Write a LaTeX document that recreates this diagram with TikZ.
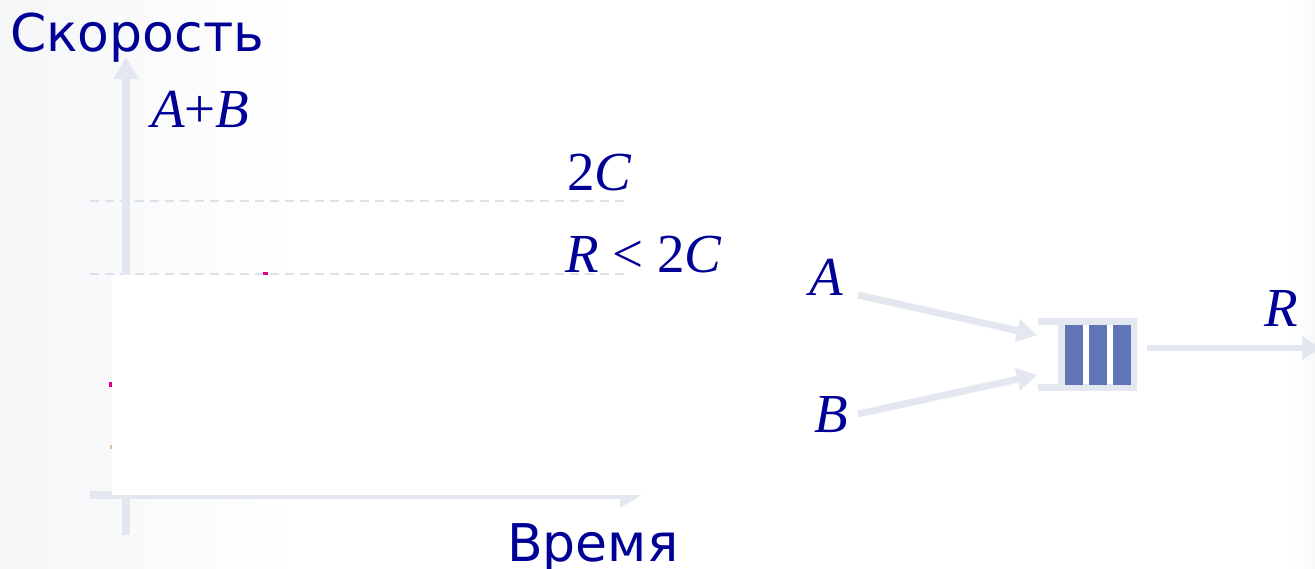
\documentclass[tikz,border=0pt]{standalone}
\usepackage{fontspec}
\setmainfont{Liberation Serif}
\newfontfamily\ruf{DejaVu Sans}
\usetikzlibrary{arrows.meta}
\definecolor{txt}{RGB}{0,0,150}
\definecolor{axisc}{RGB}{227,232,240}
\definecolor{dashc}{RGB}{220,226,236}
\definecolor{barc}{RGB}{96,117,181}
\definecolor{bgl}{RGB}{245,246,248}
\definecolor{speck}{RGB}{220,0,140}
\begin{document}
\begin{tikzpicture}[x=1pt,y=-1pt,
 lab/.style={inner sep=0, anchor=base west, text=txt, font=\fontsize{55}{55}\selectfont},
 rus/.style={inner sep=0, anchor=base west, text=txt, text depth=0pt, font=\ruf\fontsize{52}{52}\selectfont},
 ax/.style={draw=axisc, line width=8pt, -{Triangle[length=22pt,width=24pt]}},
 flow/.style={draw=axisc, line width=7pt, -{Triangle[length=20pt,width=22pt]}},
 guide/.style={draw=dashc, line width=1.5pt, dash pattern=on 9pt off 6pt},
 frame/.style={draw=axisc, line width=7pt},
 bar/.style={fill=barc}]
\useasboundingbox (0,0) rectangle (1315,568);
\fill[white] (0,0) rectangle (1315,568);
\shade[left color=bgl,right color=white] (0,0) rectangle (300,568);
\shade[left color=white,right color=bgl!70] (1290,0) rectangle (1315,568);
% guides
\coordinate (g1a) at (90,201); \coordinate (g1b) at (630,201);
\coordinate (g2a) at (90,274); \coordinate (g2b) at (630,274);
\draw[guide] (g1a) -- (g1b);
\draw[guide] (g2a) -- (g2b);
% axes
\coordinate (yb) at (126,535); \coordinate (yt) at (126,57);
\coordinate (xl) at (90,495); \coordinate (xr) at (642,495);
\draw[ax] (yb) -- (yt);
\draw[ax] (xl) -- (xr);
% white cover
\fill[white] (112,275) rectangle (660,495);
\fill[speck] (263,272) rectangle (268,275);
\fill[speck] (109,382) rectangle (112,387);
\fill[brown!50] (110,445) rectangle (112,449);
% labels
\node[rus] (sk) at (10,51) {Скорость};
\node[rus] (vr) at (507,561) {Время};
\node[lab] (ab) at (151,127) {\itshape A\upshape+\itshape B};
\node[lab] (c2) at (567,190) {2\itshape C};
\node[lab] (rc) at (565,272) {\itshape R\upshape\ {<}\ 2\itshape C};
\node[lab] (la) at (809,295) {\itshape A};
\node[lab] (lb) at (814,432) {\itshape B};
\node[lab] (lr) at (1264,326) {\itshape R};
% queue
\draw[frame] (1038,321.5) -- (1137,321.5);
\draw[frame] (1038,387.5) -- (1137,387.5);
\draw[frame] (1133.5,318) -- (1133.5,391);
\draw[frame] (1061.5,318) -- (1061.5,391);
\fill[bar] (1065,325) rectangle (1083,385);
\fill[bar] (1089,325) rectangle (1107,385);
\fill[bar] (1113,325) rectangle (1131,385);
% flows
\coordinate (sa) at (858,295); \coordinate (qa) at (1037,335);
\coordinate (sb) at (858,414); \coordinate (qb) at (1037,375);
\coordinate (qo) at (1147,348); \coordinate (ro) at (1322,348);
\draw[flow] (sa) -- (qa);
\draw[flow] (sb) -- (qb);
\draw[flow, line width=6pt] (qo) -- (ro);
\end{tikzpicture}
\end{document}
